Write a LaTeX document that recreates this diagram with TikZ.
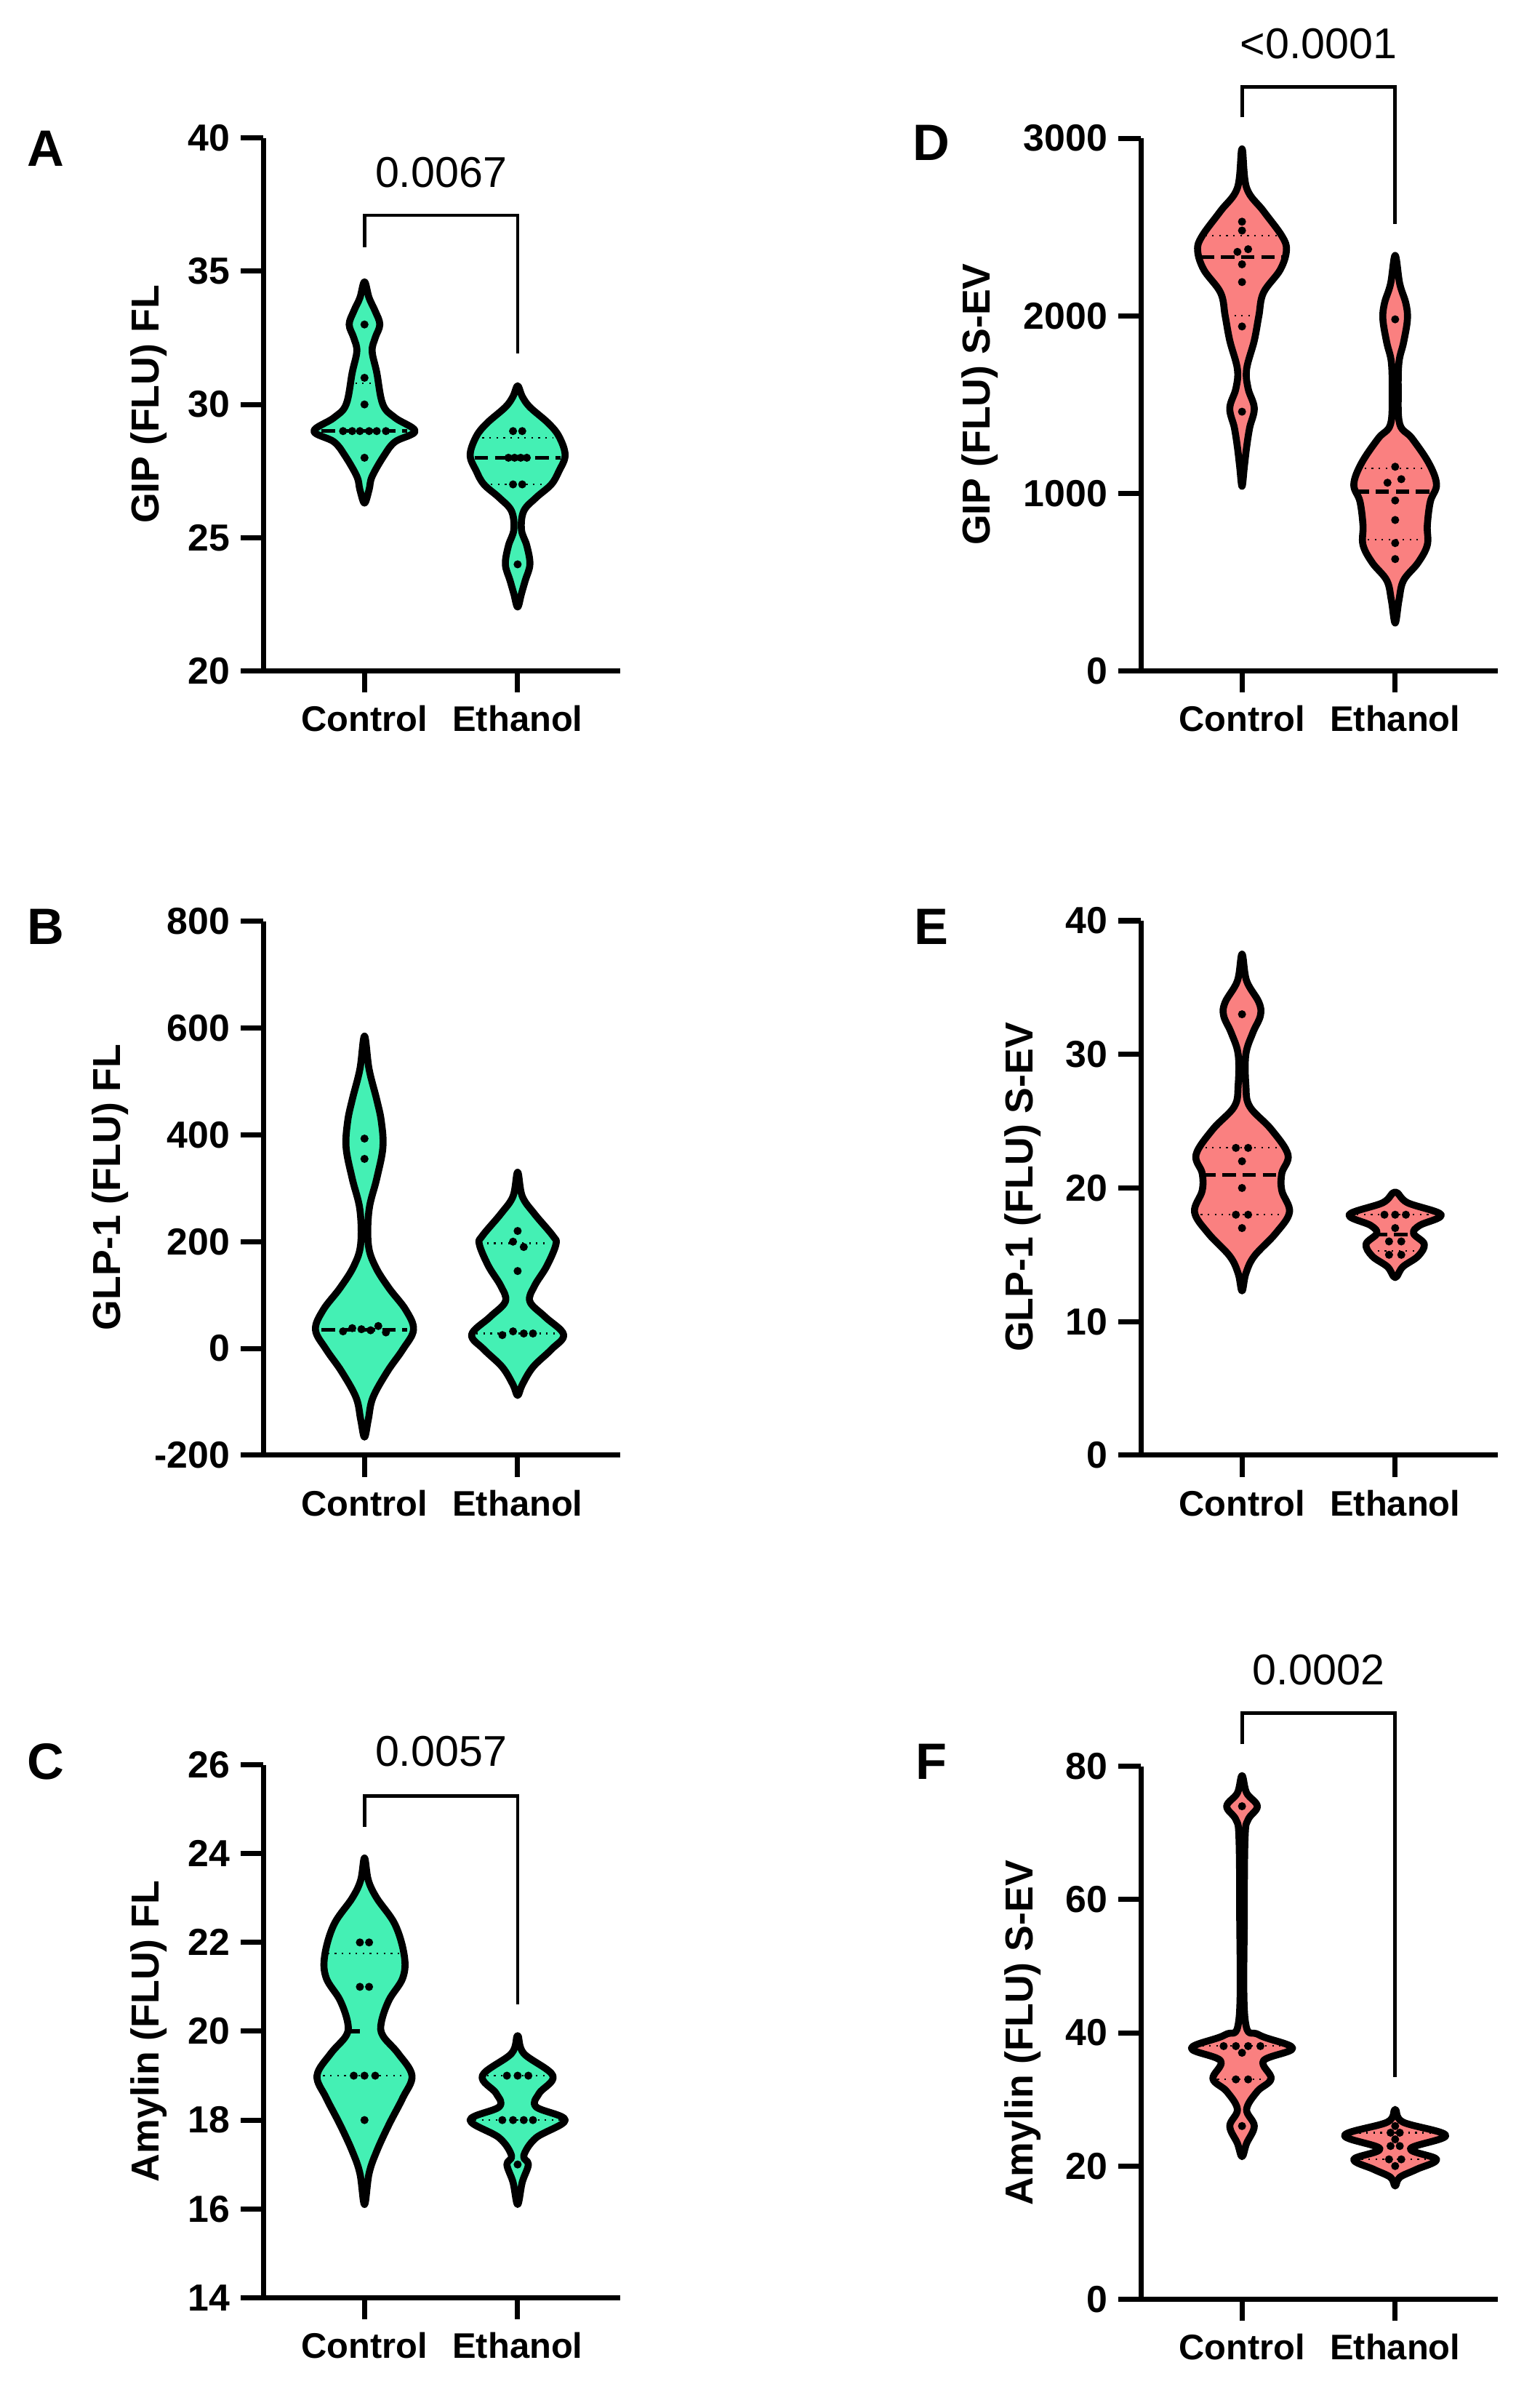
\documentclass[tikz,border=0pt]{standalone}
\usepackage{fontspec}
\setmainfont{Liberation Sans}
\usetikzlibrary{positioning}
\definecolor{mint}{RGB}{68,240,180}
\definecolor{salmon}{RGB}{250,128,128}
\tikzset{violin/.style={black,line width=2.6pt,line join=round},
  axis/.style={black,line width=1.9pt},
  bracket/.style={black,line width=1.3pt},
  medianline/.style={black,line width=1.4pt,dash pattern=on 5pt off 2.5pt},
  quartline/.style={black,line width=0.6pt,dotted},
  ticklab/.style={font=\fontsize{14}{16}\selectfont\bfseries,inner sep=3pt},
  catlab/.style={font=\fontsize{13.2}{15}\selectfont\bfseries,inner sep=0pt},
  ytitle/.style={font=\fontsize{14.5}{16}\selectfont\bfseries,rotate=90},
  pval/.style={font=\fontsize{16}{18}\selectfont},
  letter/.style={font=\fontsize{19}{21}\selectfont\bfseries},
  panel/.style n args={4}{shift={(#1,-#2)},y={(0,#3)},shift={(0,-#4)}}}
\newcommand\violin[5]{%
  \def\vR{}\def\vL{}%
  \foreach \v/\w in {#4}{\xdef\vR{\vR(#1+\w,\v)}\xdef\vL{(#1-\w,\v)\vL}}%
  \draw[violin,fill=#5] plot[smooth cycle,tension=0.6] coordinates{(#1,#2)\vR(#1,#3)\vL};}
\newcommand\points[1]{\foreach \p in {#1}{\fill[black] \p circle[radius=1.5pt];}}
\newcommand\axes[4]{% vmin, vmax, tick list, prefix
  \draw[axis] (0,#2) -- (0,#1) -- (233,#1);
  \foreach \t in {#3}{\draw[axis] (0,\t) -- ++(-15,0) node[left,ticklab] (#4\t) {\t};}
  \draw[axis] (66,#1) -- ++(0pt,-8pt) node[below=4pt,catlab] (#4ctl) {Control};
  \draw[axis] (166,#1) -- ++(0pt,-8pt) node[below=4pt,catlab] (#4eth) {Ethanol};}

\begin{document}
\begin{tikzpicture}[x=0.02cm,y=0.02cm]
  \useasboundingbox (0,0) rectangle (1000,-1572);
  % A
  \begin{scope}[panel={172}{438}{0.348cm}{20}]
   \axes{20}{40}{20,25,...,40}{a}
   \violin{66}{34.6}{26.3}{34.0/3,33.5/7,33.0/10,32.5/7,32.0/5,31.2/8,30.0/12,29.5/20,29.0/33,28.6/20,28.1/13,27.3/5,26.8/3}{mint}
   \violin{166}{30.7}{22.4}{30.3/3,29.9/8,29.3/20,28.8/27,28.1/31,27.5/27,27.0/22,26.5/12,26.0/4,25.3/2.5,24.7/6,24.0/8,23.4/5,22.9/2.5}{mint}
   \draw[medianline] (38,29) -- (94,29);
   \draw[quartline] (60,30.8) -- (72,30.8);
   \draw[medianline] (138,28) -- (194,28);
   \draw[quartline] (143,28.75) -- (189,28.75);
   \draw[quartline] (144,27) -- (188,27);
   \points{(66,33),(66,31),(66,30),(52,29),(58,29),(63,29),(69,29),(74,29),(80,29),(66,28),(163,29),(169,29),(160,28),(164,28),(168,28),(172,28),(163,27),(169,27),(166,24)}
   \draw[bracket] (66,35.9) |- (166,37.1) -- (166,31.9);
   \node[pval] (pa) at (116,38.7) {0.0067};
  \end{scope}
  % B
  \begin{scope}[panel={172}{950}{0.00698cm}{-200}]
   \axes{-200}{800}{-200,0,...,800}{b}
   \violin{66}{585}{-166}{523/3,466/8,425/11,376/12,318/8,260/3,195/2.5,154/7,113/16,72/27,35/32,-2/25,-43/15,-92/5.5,-133/2.5}{mint}
   \violin{166}{330}{-88}{285/3,252/11,211/23,195/25,154/19,117/11,88/8,59/18,26/30,-2/22,-35/10,-68/3}{mint}
   \draw[medianline] (38,35) -- (94,35);
   \draw[quartline] (146,197) -- (186,197);
   \draw[quartline] (139,28) -- (193,28);
   \points{(66,393),(66,355),(52,32),(58,38),(64,36),(70,34),(75,42),(80,30),(166,220),(163,200),(170,190),(166,145),(156,25),(163,32),(170,28),(176,28)}
  \end{scope}
  % C
  \begin{scope}[panel={172}{1500}{0.58cm}{14}]
   \axes{14}{26}{14,16,...,26}{c}
   \violin{66}{23.9}{16.1}{23.4/2.5,23.0/8,22.4/20,21.7/26,21.2/25,20.7/16,20.2/11,19.9/12,19.5/22,19.0/31,18.5/25,17.9/16,17.3/8,16.8/3}{mint}
   \violin{166}{19.9}{16.1}{19.5/4,19.0/23,18.6/14,18.3/12,18.0/31,17.6/12,17.2/4,17.0/7,16.6/3}{mint}
   \draw[quartline] (42,21.75) -- (90,21.75);
   \draw[quartline] (39,19) -- (93,19);
   \draw[medianline] (54,20) -- (63,20);
   \draw[quartline] (146,19) -- (186,19);
   \draw[quartline] (138,18) -- (194,18);
   \points{(63,22),(69,22),(63,21),(69,21),(59,19),(66,19),(73,19),(66,18),(159,19),(166,19),(173,19),(156,18),(163,18),(170,18),(176,18),(166,17)}
   \draw[bracket] (66,24.6) |- (166,25.3) -- (166,20.6);
   \node[pval] (pc) at (116,26.3) {0.0057};
  \end{scope}
  % D
  \begin{scope}[panel={745}{438}{0.00232cm}{0}]
   \axes{0}{3000}{0,1000,...,3000}{d}
   \violin{66}{2940}{1040}{2720/3,2590/14,2450/26,2370/29,2260/25,2130/14,2000/11,1860/8,1700/3,1590/4,1480/8,1370/5,1260/3,1150/1.5}{salmon}
   \violin{166}{2340}{270}{2180/3,2070/7,1980/8,1850/5.5,1740/2.5,1580/2,1390/3,1310/11,1170/22,1050/27,955/23,820/21,710/21,610/15,510/5.5,400/2.5}{salmon}
   \draw[medianline] (39,2330) -- (93,2330);
   \draw[quartline] (42,2450) -- (90,2450);
   \draw[quartline] (61,2000) -- (71,2000);
   \draw[medianline] (140,1010) -- (192,1010);
   \draw[quartline] (146,1140) -- (186,1140);
   \draw[quartline] (148,740) -- (184,740);
   \points{(66,2530),(66,2480),(63,2360),(70,2375),(66,2290),(66,2190),(66,1940),(66,1460),(166,1980),(166,1150),(161,1060),(170,1080),(166,960),(166,850),(166,720),(166,630)}
   \draw[bracket] (66,3117) |- (166,3290) -- (166,2518);
   \node[pval] (pd) at (116,3534) {<0.0001};
  \end{scope}
  % E
  \begin{scope}[panel={745}{950}{0.1745cm}{0}]
   \axes{0}{40}{0,10,...,40}{e}
   \violin{66}{37.5}{12.3}{35.5/3,33.9/11,32.9/12,31.6/7,30/2.5,27.7/2.5,26.1/5,24.4/19,22.5/30,21.1/26,19.8/26,18.2/31,16.6/22,14.9/8,13.6/2.5}{salmon}
   \violin{166}{19.7}{13.3}{18.9/8,18.0/30,17.2/16,16.6/12,15.8/19,14.9/15,14.1/5}{salmon}
   \draw[medianline] (40,21) -- (92,21);
   \draw[quartline] (42,23) -- (90,23);
   \draw[quartline] (39,18) -- (93,18);
   \draw[medianline] (152,16.5) -- (180,16.5);
   \draw[quartline] (141,18) -- (191,18);
   \draw[quartline] (150,15.3) -- (182,15.3);
   \points{(66,33),(62,23),(70,23),(66,22),(66,20),(62,18),(70,18),(66,17),(159,18),(166,18),(173,18),(166,17),(162,16),(170,16),(162,15),(170,15)}
  \end{scope}
  % F
  \begin{scope}[panel={745}{1501}{0.087cm}{0}]
   \axes{0}{80}{0,20,...,80}{f}
   \violin{66}{78.6}{21.4}{76.0/3,74/10,72/4,69.4/2,58/1.5,42/2,39.7/11,37.7/33,35.8/14,33.1/19,31.2/10,28.5/3,26/8,23.4/3}{salmon}
   \violin{166}{28.5}{17}{26.6/5,24.6/33,22.6/10,21.0/27,19.5/14,18.3/3}{salmon}
   \draw[quartline] (40,38) -- (92,38);
   \draw[quartline] (50,33) -- (82,33);
   \draw[quartline] (138,25) -- (194,25);
   \draw[quartline] (144,21) -- (188,21);
   \points{(66,74),(54,38),(62,38),(70,38),(78,38),(66,37),(62,33),(70,33),(66,26),(166,26),(163,25),(169,25),(166,24),(163,23),(169,23),(162,21),(170,21),(166,20)}
   \draw[bracket] (66,83.3) |- (166,88) -- (166,33.4);
   \node[pval] (pf) at (116,94.5) {0.0002};
  \end{scope}
  % titles and letters
  \node[ytitle] (ya) at (97,-264) {GIP (FLU) FL};
  \node[ytitle] (yb) at (72,-775) {GLP-1 (FLU) FL};
  \node[ytitle] (yc) at (97,-1326) {Amylin (FLU) FL};
  \node[ytitle] (yd) at (640,-264) {GIP (FLU) S-EV};
  \node[ytitle] (ye) at (668,-775) {GLP-1 (FLU) S-EV};
  \node[ytitle] (yf) at (668,-1327) {Amylin (FLU) S-EV};
  \node[letter] (la) at (30,-97) {A};
  \node[letter] (lb) at (30,-605) {B};
  \node[letter] (lc) at (30,-1150) {C};
  \node[letter] (ld) at (608,-93) {D};
  \node[letter] (le) at (608,-605) {E};
  \node[letter] (lf) at (608,-1150) {F};
\end{tikzpicture}
\end{document}
